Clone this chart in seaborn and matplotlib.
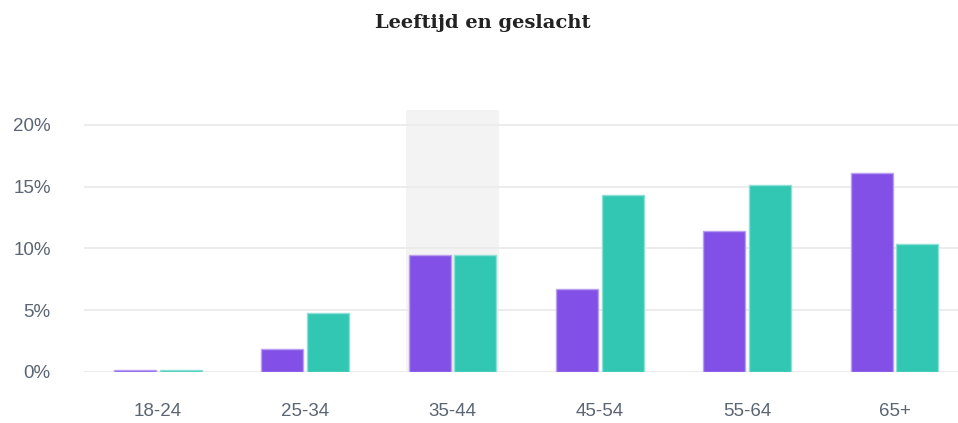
import pandas as pd
import numpy as np
import matplotlib.pyplot as plt
import matplotlib.colors as mcolors
import seaborn as sns

# Age groups and share per gender (percent)
age_groups = ['18-24', '25-34', '35-44', '45-54', '55-64', '65+']
group_a = [0.2, 1.9, 9.5, 6.7, 11.4, 16.1]   # purple
group_b = [0.2, 4.8, 9.5, 14.3, 15.1, 10.4]  # teal
series_names = ['Groep A', 'Groep B']
highlighted = '35-44'

colors = ['#8250e6', '#31c7b3']
y_top = 21.2

df = pd.DataFrame({
    'Leeftijd': age_groups * 2,
    'Geslacht': [series_names[0]] * len(age_groups) + [series_names[1]] * len(age_groups),
    'Percentage': group_a + group_b,
})

sns.set_style('white')
plt.rcParams['font.family'] = ['Liberation Sans', 'DejaVu Sans']

fig = plt.figure(figsize=(9.58, 4.23), dpi=100)
ax = fig.add_axes([0.0877, 0.1206, 0.9123, 0.619])

sns.barplot(data=df, x='Leeftijd', y='Percentage', hue='Geslacht', order=age_groups,
            hue_order=series_names, palette=colors, saturation=1, width=0.62, gap=0.08,
            legend=False, ax=ax, zorder=3)

# lighter edge on each bar
for cont, c in zip(ax.containers, colors):
    rgb = np.array(mcolors.to_rgb(c))
    edge = rgb + (1 - rgb) * 0.45
    for p in cont:
        p.set_edgecolor(edge)
        p.set_linewidth(1.0)

# hover highlight behind the 35-44 group
ax.bar(age_groups.index(highlighted), y_top, width=0.625, color='#f3f3f3',
       linewidth=0, zorder=0.5)

ax.set_ylim(0, y_top)
ax.set_xlim(-0.5, 5.43)
ax.set_yticks([0, 5, 10, 15, 20])
ax.set_yticklabels(['0%', '5%', '10%', '15%', '20%'])
ax.yaxis.grid(True, color='#ebebeb', linewidth=1.3, zorder=1)
ax.set_axisbelow(True)
for s in ax.spines.values():
    s.set_visible(False)

ax.tick_params(axis='y', length=0, pad=24, labelsize=13.5, labelcolor='#5b6573')
ax.tick_params(axis='x', length=0, pad=22, labelsize=13.5, labelcolor='#5b6573')
ax.set_xlabel('')
ax.set_ylabel('')

fig.text(0.504, 0.945, 'Leeftijd en geslacht', ha='center', va='center',
         fontsize=14, fontweight='bold', color='#222222',
         family=['DejaVu Serif'])

plt.savefig('out.png', dpi=100)
